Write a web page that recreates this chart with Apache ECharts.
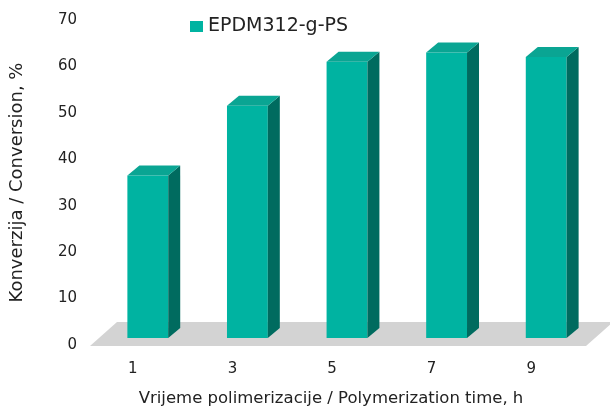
<!DOCTYPE html>
<html>
<head>
<meta charset="utf-8">
<script src="https://cdn.jsdelivr.net/npm/echarts@6/dist/echarts.min.js"></script>
<style>
  html, body { margin: 0; padding: 0; background: #fff; }
  #chart { width: 610px; height: 412px; }
</style>
</head>
<body>
<div id="chart"></div>
<script>
// Polymerization time (h) and monomer conversion (%)
const categories = ['1', '3', '5', '7', '9'];
const conversion = [35, 50, 59.5, 61.5, 60.5];
const seriesName = 'EPDM312-g-PS';
const yTicks = { min: 0, max: 70, interval: 10 };

const FONT = 'DejaVu Sans';
const FRONT = '#00b3a1';
const TOP = '#0aa593';
const SIDE = '#006b5f';
const FLOOR = '#d3d3d3';

// pseudo-3D depth of a bar and of the floor slab
const DEPTH_X = 12, DEPTH_Y = 10;
const SINK = 7;          // bar front face sits this far behind the floor's front edge
const FLOOR_DX = 27, FLOOR_DY = 24;

function renderBar(params, api) {
  const idx = api.value(0);
  const val = api.value(1);
  const base = api.coord([idx, 0]);
  const top = api.coord([idx, val]);
  const band = api.size([1, 0])[0];
  const w = band * 0.41;
  const x0 = base[0] - w / 2, x1 = x0 + w;
  const yb = base[1] - SINK, yt = top[1] - SINK;
  return {
    type: 'group',
    children: [
      { type: 'rect', shape: { x: x0, y: yt, width: w, height: yb - yt },
        style: { fill: FRONT } },
      { type: 'polygon',
        shape: { points: [[x1, yt], [x1 + DEPTH_X, yt - DEPTH_Y], [x1 + DEPTH_X, yb - DEPTH_Y], [x1, yb]] },
        style: { fill: SIDE } },
      { type: 'polygon',
        shape: { points: [[x0, yt], [x0 + DEPTH_X, yt - DEPTH_Y], [x1 + DEPTH_X, yt - DEPTH_Y], [x1, yt]] },
        style: { fill: TOP } }
    ]
  };
}

function renderFloor(params, api) {
  const cs = params.coordSys;
  const yf = cs.y + cs.height + 1;
  const xl = cs.x - 8, xr = cs.x + cs.width - 10;
  return {
    type: 'polygon',
    shape: { points: [[xl, yf], [xr, yf], [xr + FLOOR_DX, yf - FLOOR_DY], [xl + FLOOR_DX, yf - FLOOR_DY]] },
    style: { fill: FLOOR }
  };
}

const chart = echarts.init(document.getElementById('chart'), null, { renderer: 'canvas' });
chart.setOption({
  animation: false,
  backgroundColor: '#ffffff',
  textStyle: { fontFamily: FONT },
  legend: {
    left: 185, top: 12,
    icon: 'rect', itemWidth: 13, itemHeight: 11, itemGap: 8,
    data: [seriesName],
    textStyle: { fontFamily: FONT, fontSize: 19, color: '#222' }
  },
  grid: { left: 98, right: 14, top: 20, bottom: 65, containLabel: false },
  xAxis: {
    type: 'category',
    data: categories,
    axisLine: { show: false },
    axisTick: { show: false },
    axisLabel: { fontFamily: FONT, fontSize: 15, color: '#222', margin: 17, padding: [0, 30, 0, 0] },
    name: 'Vrijeme polimerizacije / Polymerization time, h',
    nameLocation: 'middle',
    nameGap: 45,
    nameTextStyle: { fontFamily: FONT, fontSize: 16.5, color: '#222', padding: [0, 32, 0, 0] }
  },
  yAxis: {
    type: 'value',
    min: yTicks.min, max: yTicks.max, interval: yTicks.interval,
    axisLine: { show: false },
    axisTick: { show: false },
    splitLine: { show: false },
    axisLabel: { fontFamily: FONT, fontSize: 15, color: '#222', margin: 21 },
    name: 'Konverzija / Conversion, %',
    nameLocation: 'middle',
    nameGap: 72,
    nameTextStyle: { fontFamily: FONT, fontSize: 18, color: '#222' }
  },
  series: [
    {
      type: 'custom',
      name: 'floor',
      silent: true,
      z: 1,
      renderItem: renderFloor,
      data: [[0, 0]]
    },
    {
      type: 'custom',
      name: seriesName,
      z: 2,
      itemStyle: { color: FRONT },
      renderItem: renderBar,
      encode: { x: 0, y: 1 },
      data: categories.map((c, i) => [i, conversion[i]])
    }
  ]
});
</script>
</body>
</html>
